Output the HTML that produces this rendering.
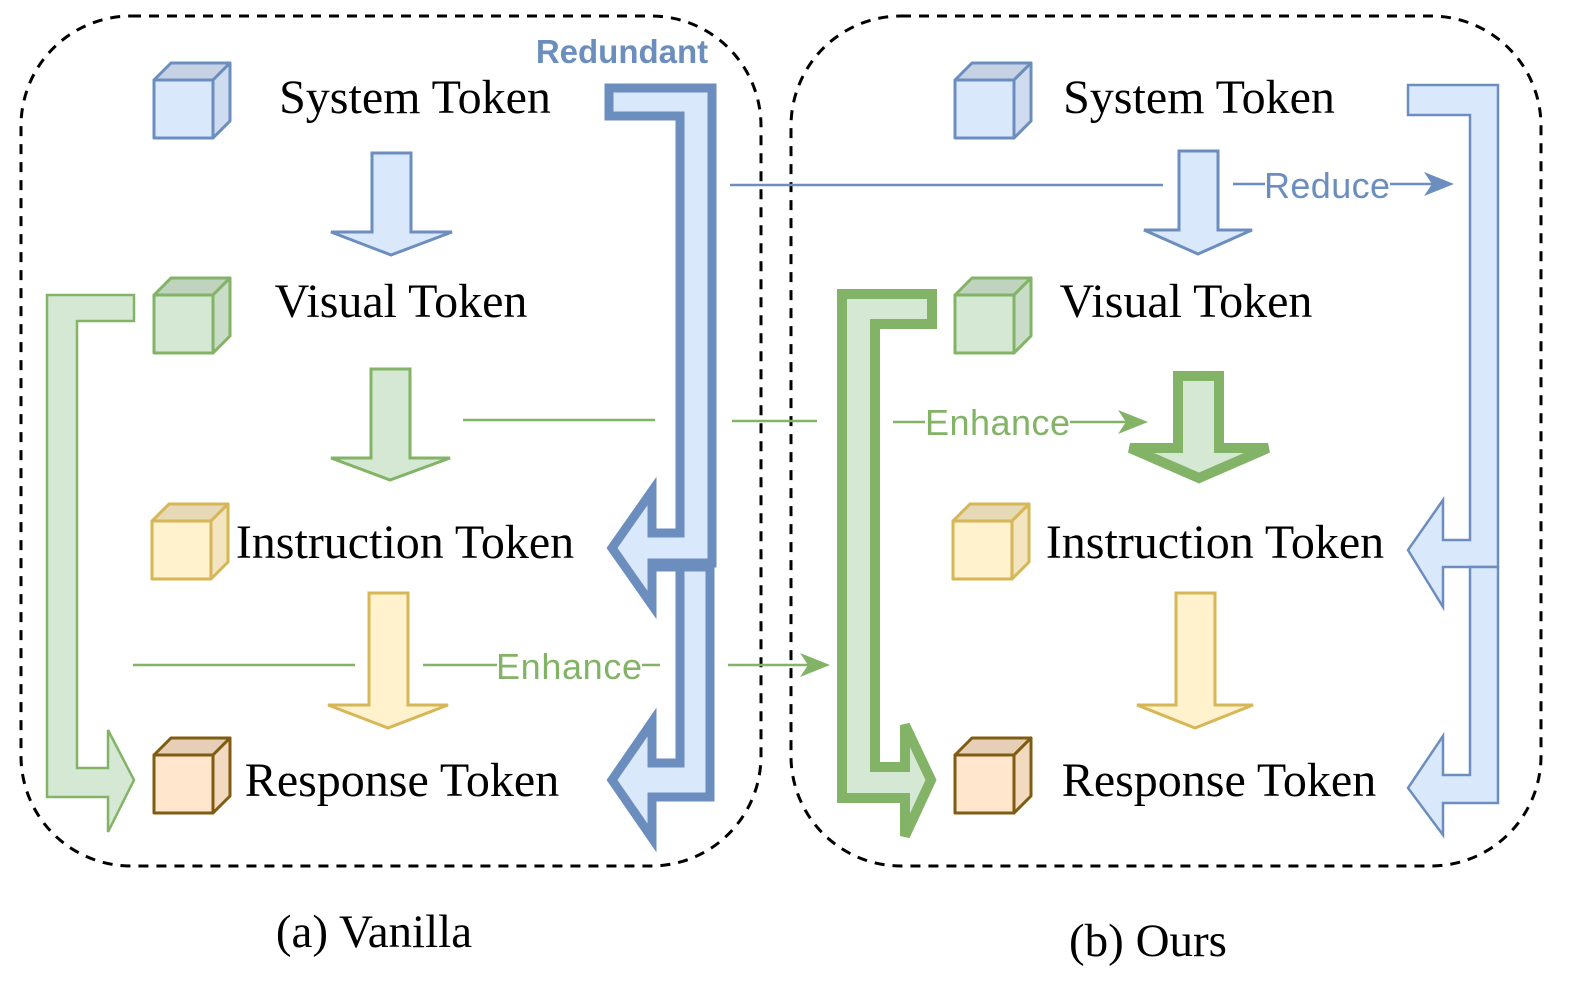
<!DOCTYPE html>
<html><head><meta charset="utf-8"><style>
html,body{margin:0;padding:0;background:#fff;}
svg{display:block;}
.t{font-family:"Liberation Serif",serif;font-size:48px;fill:#000;}
.s{font-family:"Liberation Sans",sans-serif;font-size:36px;}
</style></head><body>
<svg width="1577" height="994" viewBox="0 0 1577 994" xmlns="http://www.w3.org/2000/svg">
<rect x="21" y="16" width="740" height="850" rx="110" fill="none" stroke="#000" stroke-width="3" stroke-dasharray="10,8"/>
<rect x="791" y="16" width="750" height="850" rx="110" fill="none" stroke="#000" stroke-width="3" stroke-dasharray="10,8"/>

<g stroke-width="3" stroke-linejoin="round">
<g fill="#dae8fc" stroke="#6c8ebf">
<path d="M154,80 L171,63 L230,63 L213,80 Z" fill="#c6d2e4"/><path d="M213,80 L230,63 L230,121 L213,138 Z" fill="#cfdcef"/><rect x="154" y="80" width="59" height="58"/>
<path d="M955,80 L972,63 L1031,63 L1014,80 Z" fill="#c6d2e4"/><path d="M1014,80 L1031,63 L1031,121 L1014,138 Z" fill="#cfdcef"/><rect x="955" y="80" width="59" height="58"/>
</g>
<g fill="#d5e8d4" stroke="#82b366">
<path d="M154,295 L171,278 L230,278 L213,295 Z" fill="#bfd3be"/><path d="M213,295 L230,278 L230,336 L213,353 Z" fill="#c9dcc8"/><rect x="154" y="295" width="59" height="58"/>
<path d="M955,295 L972,278 L1031,278 L1014,295 Z" fill="#bfd3be"/><path d="M1014,295 L1031,278 L1031,336 L1014,353 Z" fill="#c9dcc8"/><rect x="955" y="295" width="59" height="58"/>
</g>
<g fill="#fff2cc" stroke="#d6b656">
<path d="M152,521 L169,504 L228,504 L211,521 Z" fill="#e6d9b6"/><path d="M211,521 L228,504 L228,562 L211,579 Z" fill="#f2e5c0"/><rect x="152" y="521" width="59" height="58"/>
<path d="M953,521 L970,504 L1029,504 L1012,521 Z" fill="#e6d9b6"/><path d="M1012,521 L1029,504 L1029,562 L1012,579 Z" fill="#f2e5c0"/><rect x="953" y="521" width="59" height="58"/>
</g>
<g fill="#ffe6cc" stroke="#7f5c12">
<path d="M154,755 L171,738 L230,738 L213,755 Z" fill="#e6cfb6"/><path d="M213,755 L230,738 L230,796 L213,813 Z" fill="#f2dac0"/><rect x="154" y="755" width="59" height="58"/>
<path d="M955,755 L972,738 L1031,738 L1014,755 Z" fill="#e6cfb6"/><path d="M1014,755 L1031,738 L1031,796 L1014,813 Z" fill="#f2dac0"/><rect x="955" y="755" width="59" height="58"/>
</g>
</g>

<text class="t" x="415" y="113" text-anchor="middle">System Token</text>
<text class="t" x="401" y="317" text-anchor="middle">Visual Token</text>
<text class="t" x="405" y="558" text-anchor="middle">Instruction Token</text>
<text class="t" x="402" y="796" text-anchor="middle">Response Token</text>
<text class="t" x="1199" y="113" text-anchor="middle">System Token</text>
<text class="t" x="1186" y="317" text-anchor="middle">Visual Token</text>
<text class="t" x="1215" y="558" text-anchor="middle">Instruction Token</text>
<text class="t" x="1219" y="796" text-anchor="middle">Response Token</text>
<text x="374" y="947" text-anchor="middle" style="font-family:'Liberation Serif',serif;font-size:47px">(a) Vanilla</text>
<text x="1148" y="956" text-anchor="middle" style="font-family:'Liberation Serif',serif;font-size:47px">(b) Ours</text>

<g stroke-width="3" stroke-linejoin="miter">
<path d="M372,153 L411,153 L411,232 L452,232 L391,255 L331,232 L372,232 Z" fill="#dae8fc" stroke="#6c8ebf"/>
<path d="M371,369 L410,369 L410,458 L450,458 L390,480 L331,458 L371,458 Z" fill="#d5e8d4" stroke="#82b366"/>
<path d="M369,593 L408,593 L408,705 L448,705 L388,728 L328,705 L369,705 Z" fill="#fff2cc" stroke="#d6b656"/>
<path d="M1179,151 L1218,151 L1218,230 L1252,230 L1198,254 L1144,230 L1179,230 Z" fill="#dae8fc" stroke="#6c8ebf"/>
<path d="M1176,593 L1215,593 L1215,705 L1253,705 L1195,728 L1137,705 L1176,705 Z" fill="#fff2cc" stroke="#d6b656"/>
<path d="M1178,376 L1219,376 L1219,448 L1268,448 L1199,478 L1130,448 L1178,448 Z" fill="#d5e8d4" stroke="#82b366" stroke-width="10"/>
</g>

<g stroke-linejoin="miter">
<path d="M609,88 L712,88 L712,563 L652,563 L652,605 L612,548 L652,491 L652,533 L680,533 L680,116 L609,116 Z" fill="#dae8fc" stroke="#6c8ebf" stroke-width="9"/>
<path d="M652,567 L710,567 L710,797 L652,797 L652,838 L612,780 L652,722 L652,763 L680,763 L680,567" fill="#dae8fc" stroke="#6c8ebf" stroke-width="9"/>
<path d="M1408,85 L1498,85 L1498,567 L1443,567 L1443,607 L1408,550 L1443,500 L1443,540 L1470,540 L1470,115 L1408,115 Z" fill="#dae8fc" stroke="#6c8ebf" stroke-width="2.5"/>
<path d="M1470,567 L1498,567 L1498,803 L1443,803 L1443,835 L1408,788 L1443,736 L1443,775 L1470,775 Z" fill="#dae8fc" stroke="#6c8ebf" stroke-width="2.5"/>
<path d="M134,295 L47,295 L47,797 L108,797 L108,832 L134,780 L108,730 L108,768 L77,768 L77,321 L134,321 Z" fill="#d5e8d4" stroke="#82b366" stroke-width="2.5"/>
<path d="M932,294 L842,294 L842,798 L905,798 L905,836 L931,780 L905,725 L905,767 L875,767 L875,324 L932,324 Z" fill="#d5e8d4" stroke="#82b366" stroke-width="10"/>
</g>

<g stroke-width="2.5" fill="none">
<line x1="730" y1="185" x2="1163" y2="185" stroke="#6c8ebf"/>
<line x1="1233" y1="184" x2="1265" y2="184" stroke="#6c8ebf"/>
<line x1="1390" y1="184" x2="1435" y2="184" stroke="#6c8ebf"/>
<line x1="463" y1="420" x2="655" y2="420" stroke="#82b366"/>
<line x1="732" y1="421" x2="817" y2="421" stroke="#82b366"/>
<line x1="893" y1="422" x2="925" y2="422" stroke="#82b366"/>
<line x1="1070" y1="422" x2="1130" y2="422" stroke="#82b366"/>
<line x1="133" y1="665" x2="355" y2="665" stroke="#82b366"/>
<line x1="423" y1="665" x2="497" y2="665" stroke="#82b366"/>
<line x1="642" y1="665" x2="660" y2="665" stroke="#82b366"/>
<line x1="728" y1="665" x2="812" y2="665" stroke="#82b366"/>
</g>
<path d="M1454,184 L1424,172 L1432,184 L1424,196 Z" fill="#6c8ebf"/>
<path d="M1148,422 L1118,410 L1126,422 L1118,434 Z" fill="#82b366"/>
<path d="M830,665 L800,653 L808,665 L800,677 Z" fill="#82b366"/>
<text class="s" x="1264" y="198" fill="#6c8ebf" textLength="126">Reduce</text>
<text class="s" x="925" y="435" fill="#82b366" textLength="145">Enhance</text>
<text class="s" x="496" y="679" fill="#82b366" textLength="146">Enhance</text>
<text x="622" y="63" text-anchor="middle" style="font-family:'Liberation Sans',sans-serif;font-size:33px;font-weight:bold" fill="#6c8ebf">Redundant</text>
</svg>
</body></html>
